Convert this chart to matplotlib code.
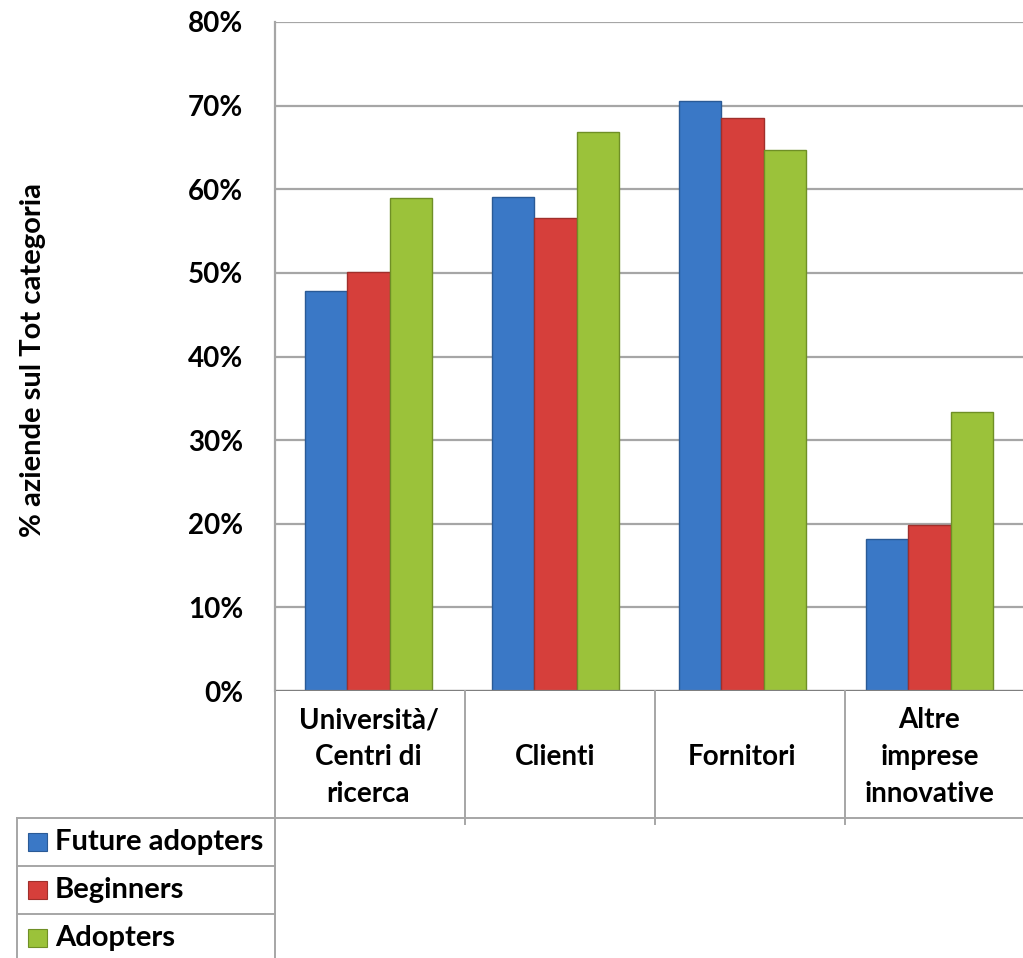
import matplotlib.pyplot as plt
import numpy as np
from matplotlib.patches import Rectangle

# data
categories = ["Università/\nCentri di\nricerca", "Clienti", "Fornitori", "Altre\nimprese\ninnovative"]
series_names = ["Future adopters", "Beginners", "Adopters"]
future_adopters = [47.8, 59.1, 70.5, 18.2]
beginners = [50.1, 56.6, 68.5, 19.9]
adopters = [58.9, 66.9, 64.7, 33.4]
yticks = [0, 10, 20, 30, 40, 50, 60, 70, 80]
ytick_labels = ["0%", "10%", "20%", "30%", "40%", "50%", "60%", "70%", "80%"]

colors = ["#3a78c6", "#d63f3b", "#9bc23a"]
edges = ["#2a5a96", "#a02f2b", "#6f8f26"]

plt.rcParams['font.family'] = ['Lato', 'DejaVu Sans']
plt.rcParams['font.weight'] = 'bold'

W, H = 1023, 958
fig = plt.figure(figsize=(W / 100, H / 100), dpi=100)
# axes box in pixels: left 275, right 1023, 0% at y=691, 80% at y=22
ax = fig.add_axes([275 / W, (H - 691) / H, (W - 275) / W, (691 - 22) / H])

x = np.arange(len(categories))
bw = 0.225
for i, vals in enumerate([future_adopters, beginners, adopters]):
    ax.bar(x + (i - 1) * bw, vals, width=bw, color=colors[i], edgecolor=edges[i],
           linewidth=1.0, zorder=3)

ax.set_xlim(-0.5, len(categories) - 0.5)
ax.set_ylim(0, 80)
ax.set_yticks(yticks)
ax.set_yticklabels(ytick_labels, fontsize=20, fontweight='bold')
ax.tick_params(axis='y', length=0, pad=23)
ax.set_xticks([])
ax.yaxis.grid(True, color='#a6a6a6', linewidth=1.6, zorder=0)
for s in ['top', 'right', 'bottom']:
    ax.spines[s].set_visible(False)
ax.spines['left'].set_color('#a6a6a6')
ax.spines['left'].set_linewidth(1.6)
ax.axhline(0, color='#7f7f7f', linewidth=1.6, zorder=4)

fig.text(33 / W, 1 - 360 / H, "% aziende sul Tot categoria", rotation=90,
         ha='center', va='center', fontsize=21, fontweight='bold')

# data table lines (figure pixel coords)
def px_line(x0, y0, x1, y1):
    fig.add_artist(plt.Line2D([x0 / W, x1 / W], [1 - y0 / H, 1 - y1 / H],
                              color='#a6a6a6', linewidth=1.4))

px_line(275, 691, 275, 958)
for xs in [465, 655, 845]:
    px_line(xs, 691, xs, 824)
px_line(17, 818, W, 818)
px_line(17, 866, 275, 866)
px_line(17, 914, 275, 914)
px_line(17, 818, 17, 958)

# category labels
cell_w = (W - 275) / len(categories)
for i, c in enumerate(categories):
    fig.text((275 + cell_w * (i + 0.5)) / W, 1 - 757 / H, c, ha='center', va='center',
             fontsize=20, fontweight='bold', linespacing=1.5)

# legend rows
for i, name in enumerate(series_names):
    yc = 842 + i * 48
    fig.add_artist(Rectangle((28 / W, 1 - (yc + 9) / H), 19 / W, 18 / H,
                             facecolor=colors[i], edgecolor=edges[i], linewidth=0.8))
    fig.text(55 / W, 1 - yc / H, name, ha='left', va='center',
             fontsize=21, fontweight='bold')

fig.savefig("out.png", dpi=100)
